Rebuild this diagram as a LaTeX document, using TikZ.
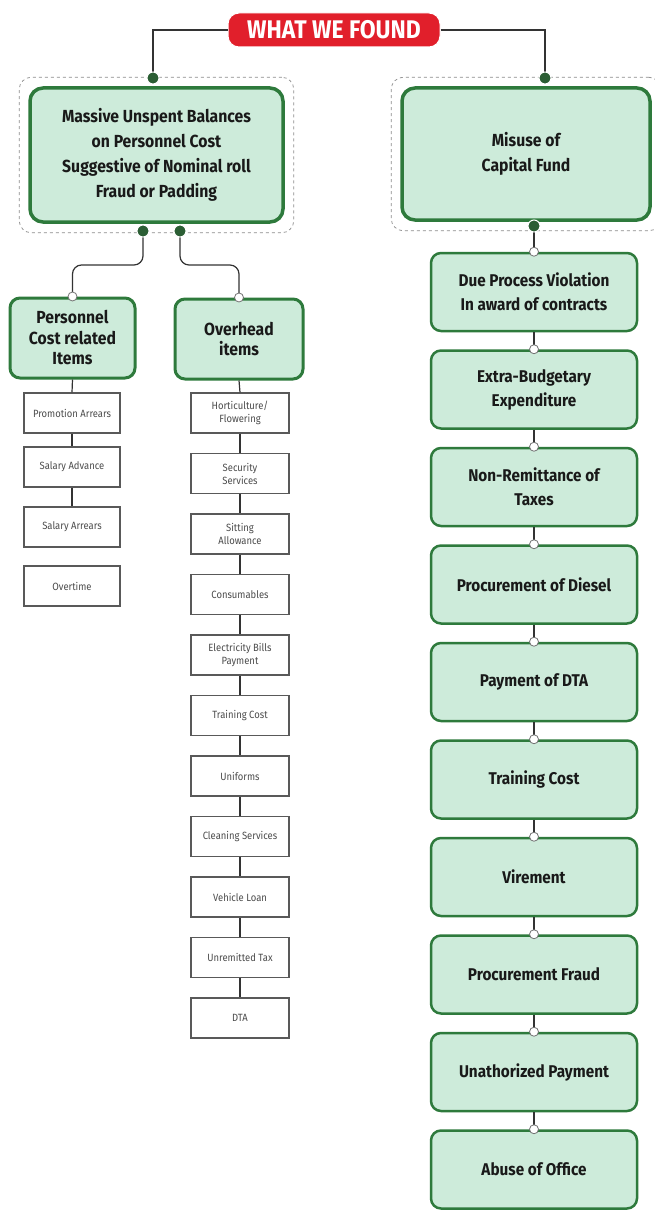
\documentclass[tikz,border=0pt]{standalone}
\usepackage{fontspec}
\newfontfamily\findfont{Fira Sans}[FakeStretch=0.9]
\usetikzlibrary{fit, calc}
\definecolor{fgreen}{HTML}{2E7A3C}
\definecolor{dgreen}{HTML}{2B5E34}
\definecolor{fmint}{HTML}{CDEBDA}
\definecolor{fred}{HTML}{E11F2B}
\tikzset{
  titlepill/.style={fill=fred, draw=white, line width=1pt, rounded corners=11pt,
    minimum width=212pt, minimum height=34pt, inner sep=0pt, text=white,
    font=\findfont\bfseries\fontsize{25.5}{28}\selectfont},
  findbox/.style={draw=fgreen, line width=3.5pt, fill=fmint, rounded corners=13pt,
    align=center, inner sep=0pt, text=black!90,
    font=\findfont\bfseries\fontsize{17.5}{25}\selectfont},
  subbox/.style={findbox, line width=3pt, rounded corners=10pt,
    font=\findfont\bfseries\fontsize{17.5}{20.5}\selectfont},
  issuebox/.style={findbox, line width=2.5pt, rounded corners=10pt,
    minimum width=206pt, minimum height=78pt,
    font=\findfont\bfseries\fontsize{17}{24}\selectfont},
  itembox/.style={draw=black!65, line width=1.3pt, fill=white, align=center,
    minimum width=96pt, minimum height=40pt, inner sep=0pt, text=black!70,
    font=\findfont\fontsize{10.5}{13}\selectfont},
  frame/.style={draw=black!45, dashed, line width=0.7pt, rounded corners=12pt, inner sep=9pt},
  link/.style={draw=black!80, line width=1.2pt},
  bigdot/.style={circle, fill=dgreen, draw=white, line width=1pt, minimum size=12pt, inner sep=0pt},
  opendot/.style={circle, fill=white, draw=black!55, line width=0.8pt, minimum size=9pt, inner sep=0pt},
}

\begin{document}
\begin{tikzpicture}[x=1pt, y=-1pt]
  \useasboundingbox[fill=white] (0,0) rectangle (654,1212);

  % the two findings at the top
  \node[findbox, minimum width=253pt, minimum height=134pt] (massive) at (156.5,155)
    {Massive Unspent Balances\\on Personnel Cost\\Suggestive of Nominal roll\\Fraud or Padding};
  \node[frame, fit=(massive)] (massivefr) {};
  \node[findbox, minimum width=248pt, minimum height=132pt] (capital) at (526,154)
    {Misuse of\\Capital Fund};
  \node[frame, fit=(capital)] (capitalfr) {};

  % title and its two branches
  \node[titlepill] (found) at (334,30) {WHAT WE FOUND};
  \coordinate (mtop) at (153,78);
  \coordinate (ctop) at (545,78);
  \draw[link] (found.west) -| (mtop);
  \draw[link] (found.east) -| (ctop);
  \node[bigdot] at (mtop) {};
  \node[bigdot] at (ctop) {};

  % second level under the personnel finding
  \node[subbox, minimum width=125pt, minimum height=80pt] (pers) at (72.5,338)
    {Personnel\\Cost related\\Items};
  \node[subbox, minimum width=128pt, minimum height=80pt] (over) at (239,339)
    {Overhead\\items};
  \coordinate (mbotl) at (143,231);
  \coordinate (mbotr) at (180,231);
  \draw[link, rounded corners=9pt] (mbotl) -- ++(0,34) -| (pers.north);
  \draw[link, rounded corners=9pt] (mbotr) -- ++(0,34) -| (over.north);
  \node[bigdot] at (mbotl) {};
  \node[bigdot] at (mbotr) {};
  \node[opendot] at (pers.north) {};
  \node[opendot] at (over.north) {};

  % personnel cost items (the last one stands alone)
  \foreach \txt/\yy [count=\i] in {Promotion Arrears/413, Salary Advance/467,
    Salary Arrears/527, Overtime/586}
    \node[itembox] (pa\i) at (72,\yy) {\txt};
  \draw[link] (pers.south) -- (pa1.north);
  \draw[link] (pa1.south) -- (pa2.north);
  \draw[link] (pa2.south) -- (pa3.north);

  % overhead items
  \foreach \txt [count=\i] in {{Horticulture/\\Flowering}, {Security\\Services},
    {Sitting\\Allowance}, Consumables, {Electricity Bills\\Payment}, Training Cost,
    Uniforms, Cleaning Services, Vehicle Loan, Unremitted Tax, DTA}
    \node[itembox, minimum width=98pt] (oh\i) at (240,{413+60.5*(\i-1)}) {\txt};
  \draw[link] (over.south) -- (oh1.north);
  \foreach \i in {2,...,11}{
    \pgfmathtruncatemacro{\j}{\i-1}
    \draw[link] (oh\j.south) -- (oh\i.north);
  }

  % chain of capital fund issues
  \foreach \txt [count=\i] in {{Due Process Violation\\In award of contracts},
    {Extra-Budgetary\\Expenditure}, {Non-Remittance of\\Taxes}, Procurement of Diesel,
    Payment of DTA, Training Cost, Virement, Procurement Fraud,
    Unathorized Payment, Abuse of Office}
    \node[issuebox] (iss\i) at (534,{292+97.5*(\i-1)}) {\txt};
  \coordinate (cbot) at (534,226);
  \draw[link] (cbot) -- (iss1.north);
  \foreach \i in {2,...,10}{
    \pgfmathtruncatemacro{\j}{\i-1}
    \draw[link] (iss\j.south) -- (iss\i.north);
    \node[opendot] at (iss\i.north) {};
  }
  \node[bigdot] at (cbot) {};
  \node[opendot] at (iss1.north) {};
\end{tikzpicture}
\end{document}
